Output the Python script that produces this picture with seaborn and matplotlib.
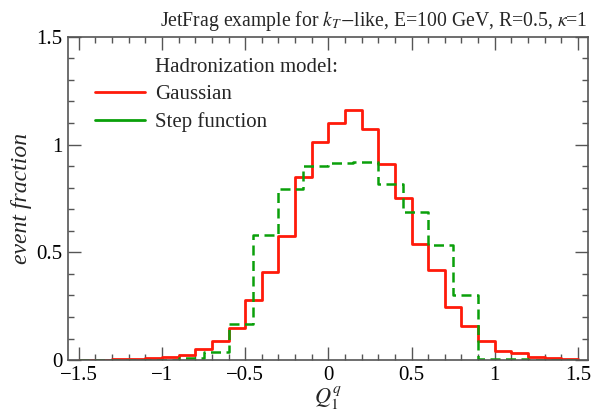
import numpy as np
import pandas as pd
import matplotlib
matplotlib.use("Agg")
import matplotlib.pyplot as plt
from matplotlib.ticker import MultipleLocator
from matplotlib.lines import Line2D
import seaborn as sns

# Gaussian hadronization: 30 bins of width 0.1 from -1.5 to 1.5
gauss_centers = np.round(np.arange(-1.45, 1.5, 0.1), 3)
gauss_vals = [0.002, 0.002, 0.003, 0.005, 0.009, 0.016, 0.025, 0.050, 0.090, 0.150,
              0.278, 0.411, 0.577, 0.848, 1.011, 1.098, 1.158, 1.073, 0.912, 0.753,
              0.540, 0.416, 0.245, 0.160, 0.090, 0.042, 0.031, 0.014, 0.008, 0.003]

# Step-function hadronization: 20 bins of width 0.15 from -1.5 to 1.5
step_centers = np.round(np.arange(-1.425, 1.5, 0.15), 3)
step_vals = [0.001, 0.001, 0.002, 0.002, 0.008, 0.039, 0.167, 0.581, 0.794, 0.899,
             0.915, 0.919, 0.819, 0.685, 0.532, 0.302, 0.006, 0.003, 0.002, 0.001]

gauss_df = pd.DataFrame({"q": gauss_centers, "w": gauss_vals})
step_df = pd.DataFrame({"q": step_centers, "w": step_vals})

sns.set_style("ticks")
plt.rcParams["font.family"] = ["Liberation Serif", "DejaVu Serif"]
plt.rcParams["mathtext.fontset"] = "stix"

fig = plt.figure(figsize=(5.95, 4.13), dpi=100)
ax = fig.add_axes([0.1143, 0.128, 0.8737, 0.783])

red = "#ff1a0a"
green = "#0aa00a"
sns.histplot(data=gauss_df, x="q", weights="w", binwidth=0.1, binrange=(-1.5, 1.5),
             element="step", fill=False, color=red, linewidth=2, ax=ax)
sns.histplot(data=step_df, x="q", weights="w", binwidth=0.15, binrange=(-1.5, 1.5),
             element="step", fill=False, color=green, linewidth=1.8,
             linestyle=(0, (4, 2.2)), ax=ax)

ax.set_xlim(-1.565, 1.56)
ax.set_ylim(0, 1.5)
ax.xaxis.set_minor_locator(MultipleLocator(0.1))
ax.yaxis.set_minor_locator(MultipleLocator(0.1))
ax.set_xticks([-1.5, -1, -0.5, 0, 0.5, 1, 1.5])
ax.set_xticklabels(["\u22121.5", "\u22121", "\u22120.5", "0", "0.5", "1", "1.5"])
ax.set_yticks([0, 0.5, 1, 1.5])
ax.set_yticklabels(["0", "0.5", "1", "1.5"])
ax.tick_params(which="both", direction="in", top=True, right=True, color="#555555",
               labelsize=15, labelcolor="black", pad=4)
ax.tick_params(which="major", length=9.5, width=1)
ax.tick_params(which="minor", length=4.5, width=1)
for s in ax.spines.values():
    s.set_visible(True)
    s.set_color("#555555")
    s.set_linewidth(1.2)

ax.set_xlabel(r"$Q_1^q$", fontsize=16, labelpad=0)
ax.set_ylabel("event fraction", fontsize=17, style="italic", labelpad=3)
ax.set_title(r"JetFrag example for $k_T$$-$like, E=100 GeV, R=0.5, $\kappa$=1",
             fontsize=14.2, pad=8, loc="right")

handles = [Line2D([], [], linestyle="none"),
           Line2D([], [], color=red, linewidth=2),
           Line2D([], [], color=green, linewidth=2)]
ax.legend(handles, ["Hadronization model:", "Gaussian", "Step function"],
          loc="upper left", bbox_to_anchor=(0.052, 0.935), frameon=False,
          fontsize=15, handlelength=2.4, handletextpad=0.5,
          labelspacing=0.36, borderaxespad=0, borderpad=0)

fig.savefig("out.png", dpi=100)
